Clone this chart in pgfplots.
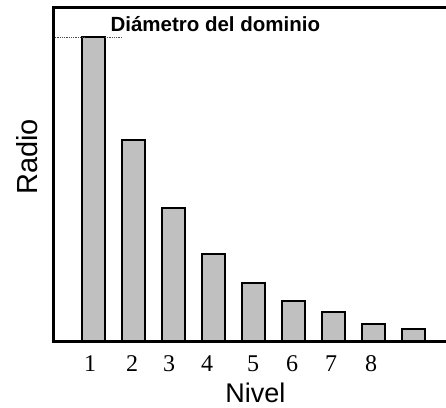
\documentclass[border=0pt]{standalone}
\usepackage{pgfplots}
\pgfplotsset{compat=1.18}
\usepackage{fontspec}
\setmainfont{Liberation Serif}
\newfontfamily\arial{Liberation Sans}
\definecolor{bargray}{RGB}{192,192,192}
\begin{document}
\begin{tikzpicture}[x=1pt,y=1pt]
\begin{axis}[
  at={(53pt,66pt)}, anchor=origin,
  scale only axis, width=393pt, height=333pt,
  xmin=0, xmax=9.825, ymin=0, ymax=333,
  axis line style={draw=none},
  clip=false,
  xtick=\empty, ytick=\empty,
]
\addplot[ybar, bar width=23pt, fill=bargray, draw=black, line width=2pt]
  coordinates {(1,304) (2,201) (3,133) (4,87) (5,58) (6,40) (7,29) (8,17) (9,12)};
\addplot[densely dotted, line width=0.8pt, black!70] coordinates {(0,304) (0.8,304)};
\addplot[densely dotted, line width=0.8pt, black!70] coordinates {(1.3,304) (1.75,304)};
\draw[line width=3pt] (axis cs:9.95,333) -- (axis cs:0,333) -- (axis cs:0,0) -- (axis cs:9.95,0);
\node[font=\arial\bfseries\fontsize{20.5}{22}\selectfont, anchor=base west] at (axis cs:1.35,309) {Diámetro del dominio};
\node[font=\fontsize{24}{26}\selectfont, anchor=base] at (axis cs:0.925,-30) {1};
\node[font=\fontsize{24}{26}\selectfont, anchor=base] at (axis cs:1.975,-30) {2};
\node[font=\fontsize{24}{26}\selectfont, anchor=base] at (axis cs:2.9,-30) {3};
\node[font=\fontsize{24}{26}\selectfont, anchor=base] at (axis cs:3.85,-30) {4};
\node[font=\fontsize{24}{26}\selectfont, anchor=base] at (axis cs:5.0,-30) {5};
\node[font=\fontsize{24}{26}\selectfont, anchor=base] at (axis cs:5.975,-30) {6};
\node[font=\fontsize{24}{26}\selectfont, anchor=base] at (axis cs:6.95,-30) {7};
\node[font=\fontsize{24}{26}\selectfont, anchor=base] at (axis cs:7.95,-30) {8};
\node[font=\arial\fontsize{27}{30}\selectfont, anchor=center] at (axis cs:5.06,-52) {Nivel};
\node[font=\arial\fontsize{29}{30}\selectfont, rotate=90, anchor=center] at (axis cs:-0.65,184) {Radio};
\end{axis}
\pgfresetboundingbox
\useasboundingbox (0,0) rectangle (446,407);
\end{tikzpicture}
\end{document}
